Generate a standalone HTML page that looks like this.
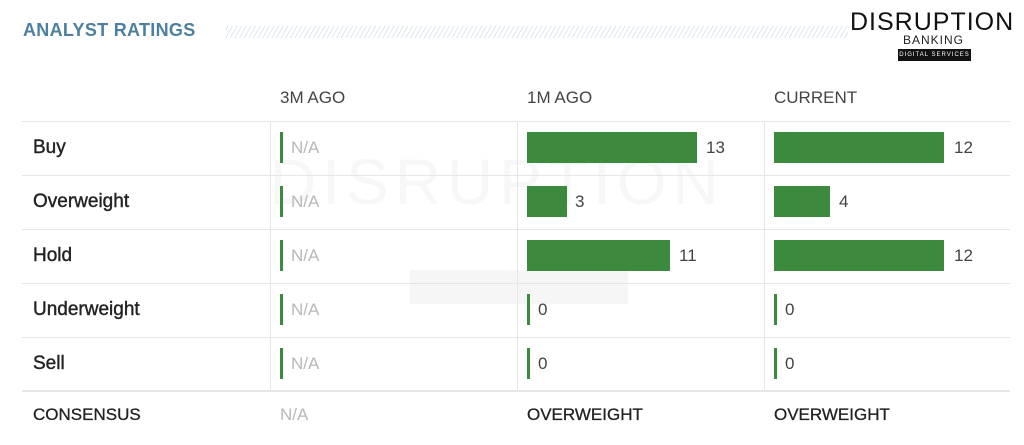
<!DOCTYPE html>
<html><head><style>
body{margin:0;width:1024px;height:445px;background:#fff;font-family:"Liberation Sans",sans-serif;position:relative;overflow:hidden}
.a{position:absolute}
.t{font-size:17px;color:#444}
.lab{font-size:19px;color:#222;left:33px;-webkit-text-stroke:0.4px #222}
.cs{font-size:17px;color:#222;-webkit-text-stroke:0.3px #222}
.bar{position:absolute;background:#3b8a3e;height:31px}
.z{position:absolute;background:#3b8a3e;width:3px;height:31px}
.na{font-size:17px;color:#b8b8b8}
.hl{position:absolute;left:22px;width:988px;height:1px;background:#e6e6e6}
.vl{position:absolute;top:121px;height:269px;width:1px;background:#e6e6e6}
</style></head><body>
<div class="a" style="left:23px;top:20px;font-size:18px;font-weight:bold;color:#4d7fa0;letter-spacing:0.3px">ANALYST RATINGS</div>
<div class="a" style="left:226px;top:26px;width:790px;height:12px;background:repeating-linear-gradient(-60deg,#dfe6ec 0 1px,transparent 1px 4px)"></div>
<div class="a" style="left:848px;top:8px;width:170px;height:56px;background:#fff"></div>
<div class="a" style="left:850px;top:8px;font-size:25px;letter-spacing:1px;color:#111">DISRUPTION</div>
<div class="a" style="left:903px;top:33px;font-size:12px;letter-spacing:1px;color:#222">BANKING</div>
<div class="a" style="left:898px;top:49px;width:73px;height:12px;background:#111;color:#fff;font-size:6px;text-align:center;line-height:12px;letter-spacing:1px">DIGITAL SERVICES</div>
<div class="a" style="left:270px;top:145px;font-size:64px;color:#f7f7f7;letter-spacing:6px">DISRUPTION</div>
<div class="a" style="left:410px;top:270px;width:218px;height:34px;background:#f6f6f6"></div>
<div class="a t" style="left:280px;top:88px">3M AGO</div>
<div class="a t" style="left:527px;top:88px">1M AGO</div>
<div class="a t" style="left:774px;top:88px">CURRENT</div>
<div class="hl" style="top:121px"></div><div class="hl" style="top:175px"></div><div class="hl" style="top:229px"></div><div class="hl" style="top:283px"></div><div class="hl" style="top:337px"></div><div class="hl" style="top:390px;height:2px"></div>
<div class="vl" style="left:270px"></div><div class="vl" style="left:517px"></div><div class="vl" style="left:764px"></div>
<div class="a lab" style="top:137px">Buy</div>
<div class="a lab" style="top:191px">Overweight</div>
<div class="a lab" style="top:245px">Hold</div>
<div class="a lab" style="top:299px">Underweight</div>
<div class="a lab" style="top:353px">Sell</div>
<div class="a cs" style="left:33px;top:405px">CONSENSUS</div>
<div class="z" style="left:280px;top:132px"></div><div class="a na" style="left:291px;top:138px">N/A</div>
<div class="z" style="left:280px;top:186px"></div><div class="a na" style="left:291px;top:192px">N/A</div>
<div class="z" style="left:280px;top:240px"></div><div class="a na" style="left:291px;top:246px">N/A</div>
<div class="z" style="left:280px;top:294px"></div><div class="a na" style="left:291px;top:300px">N/A</div>
<div class="z" style="left:280px;top:348px"></div><div class="a na" style="left:291px;top:354px">N/A</div>
<div class="a na" style="left:280px;top:405px">N/A</div>
<div class="bar" style="left:527px;top:132px;width:170px"></div><div class="a t" style="left:706px;top:138px">13</div>
<div class="bar" style="left:527px;top:186px;width:40px"></div><div class="a t" style="left:575px;top:192px">3</div>
<div class="bar" style="left:527px;top:240px;width:143px"></div><div class="a t" style="left:679px;top:246px">11</div>
<div class="z" style="left:527px;top:294px"></div><div class="a t" style="left:538px;top:300px">0</div>
<div class="z" style="left:527px;top:348px"></div><div class="a t" style="left:538px;top:354px">0</div>
<div class="a cs" style="left:527px;top:405px">OVERWEIGHT</div>
<div class="bar" style="left:774px;top:132px;width:170px"></div><div class="a t" style="left:954px;top:138px">12</div>
<div class="bar" style="left:774px;top:186px;width:56px"></div><div class="a t" style="left:839px;top:192px">4</div>
<div class="bar" style="left:774px;top:240px;width:170px"></div><div class="a t" style="left:954px;top:246px">12</div>
<div class="z" style="left:774px;top:294px"></div><div class="a t" style="left:785px;top:300px">0</div>
<div class="z" style="left:774px;top:348px"></div><div class="a t" style="left:785px;top:354px">0</div>
<div class="a cs" style="left:774px;top:405px">OVERWEIGHT</div>
</body></html>
